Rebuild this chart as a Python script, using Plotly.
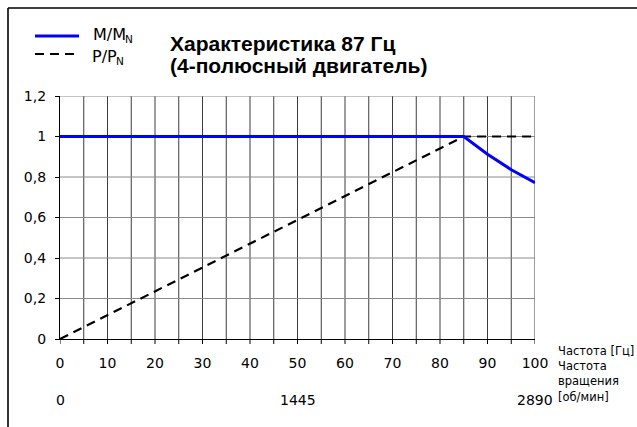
import plotly.graph_objects as go

# Frequency axis (Hz) and relative quantities
freq_torque = [0, 85, 90, 95, 100]
torque_rel = [1.0, 1.0, 0.912, 0.836, 0.772]

freq_power = [0, 85, 100]
power_rel = [0.0, 1.0, 1.0]

x_ticks = [0, 10, 20, 30, 40, 50, 60, 70, 80, 90, 100]
x_grid = list(range(0, 101, 5))
y_ticks = [0, 0.2, 0.4, 0.6, 0.8, 1.0, 1.2]
y_tick_text = ["0", "0,2", "0,4", "0,6", "0,8", "1", "1,2"]

rpm_pos = [0, 50, 100]
rpm_labels = ["0", "1445", "2890"]

W, H = 637, 427
L, R, T, B = 60, 535, 96, 339
FONT = "DejaVu Sans, sans-serif"
TITLE_FONT = "Liberation Sans, Arial, sans-serif"


def px(x):
    return (x - L) / (R - L)


def py(y):
    return (B - y) / (B - T)


fig = go.Figure()

fig.add_trace(go.Scatter(
    x=freq_power, y=power_rel, mode="lines", name="P/PN",
    line=dict(color="black", width=2.2, dash="9px,6px"), cliponaxis=False,
))
fig.add_trace(go.Scatter(
    x=freq_torque, y=torque_rel, mode="lines", name="M/MN",
    line=dict(color="#0000ff", width=3), cliponaxis=False,
))

shapes = []
# vertical grid every 5 Hz
for g in x_grid[1:]:
    shapes.append(dict(type="line", xref="x", yref="y", x0=g, x1=g, y0=0, y1=1.2,
                       line=dict(color="#3c3c3c", width=1), layer="below"))
# horizontal grid
for g in y_ticks[1:]:
    shapes.append(dict(type="line", xref="x", yref="y", x0=0, x1=100, y0=g, y1=g,
                       line=dict(color="#8a8a8a", width=1), layer="below"))
# x tick marks every 5 Hz
for g in x_grid:
    shapes.append(dict(type="line", xref="x", yref="paper", x0=g, x1=g,
                       y0=py(B), y1=py(B + 5), line=dict(color="black", width=1)))

# outer frame (top and left edges)
shapes.append(dict(type="line", xref="paper", yref="paper", x0=px(8), x1=px(650),
                   y0=py(8), y1=py(8), line=dict(color="black", width=1.6)))
shapes.append(dict(type="line", xref="paper", yref="paper", x0=px(8), x1=px(8),
                   y0=py(8), y1=py(440), line=dict(color="black", width=1.6)))

# legend samples
shapes.append(dict(type="line", xref="paper", yref="paper", x0=px(35), x1=px(79),
                   y0=py(36), y1=py(36), line=dict(color="#0000ff", width=3)))
shapes.append(dict(type="line", xref="paper", yref="paper", x0=px(35), x1=px(79),
                   y0=py(54), y1=py(54), line=dict(color="black", width=2.2, dash="9px,6px")))


def note(text, x, y, size, family=FONT, xref="paper", anchor="left"):
    return dict(text=text, x=x, y=y, xref=xref, yref="paper",
                xanchor=anchor, yanchor="middle", showarrow=False,
                font=dict(family=family, size=size, color="black"))


annotations = [
    note("M/M", px(128), py(34), 16, anchor="right"),
    note("N", px(123), py(39), 10.5),
    note("P/P", px(119), py(56), 16, anchor="right"),
    note("N", px(114), py(61), 10.5),
    note("<b>Характеристика 87 Гц</b>", px(168), py(43), 21, TITLE_FONT),
    note("<b>(4-полюсный двигатель)</b>", px(168), py(66), 21, TITLE_FONT),
]

for pos, lab in zip(rpm_pos, rpm_labels):
    annotations.append(note(lab, pos, py(400), 14, xref="x", anchor="center"))

side_lines = ["Частота [Гц]", "Частота", "вращения", "[об/мин]"]
side_y = [351, 366, 381, 397]
for txt, yy in zip(side_lines, side_y):
    annotations.append(note(txt, px(556), py(yy), 11.5))

fig.update_layout(
    width=W, height=H,
    margin=dict(l=L, r=W - R, t=T, b=H - B, pad=0),
    paper_bgcolor="white", plot_bgcolor="white",
    showlegend=False,
    shapes=shapes, annotations=annotations,
    font=dict(family=FONT, size=14, color="black"),
)
fig.update_xaxes(
    range=[0, 100], tickvals=x_ticks, showgrid=False, zeroline=False,
    showline=True, linecolor="black", linewidth=1.3,
    ticks="", ticklabelstandoff=11, tickfont=dict(family=FONT, size=14),
)
fig.update_yaxes(
    range=[0, 1.2], tickvals=y_ticks, ticktext=y_tick_text, showgrid=False, zeroline=False,
    showline=True, linecolor="black", linewidth=1.3,
    ticks="outside", ticklen=4, tickcolor="black", ticklabelstandoff=6,
    tickfont=dict(family=FONT, size=14),
)

fig.write_html("out.html")
